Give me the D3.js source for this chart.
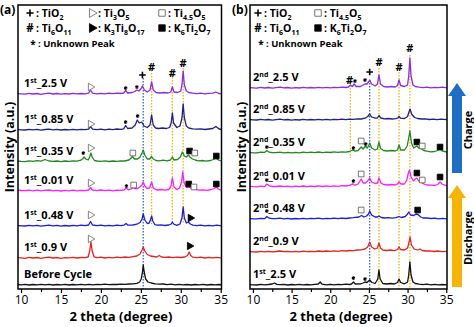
<!DOCTYPE html>
<html>
<head>
<meta charset="utf-8">
<script src="https://cdn.jsdelivr.net/npm/d3@7"></script>
<style>
  html, body { margin: 0; padding: 0; background: #fff; }
  svg { display: block; font-family: "Open Sans", "DejaVu Sans", sans-serif; }
</style>
</head>
<body>
<div id="chart"></div>
<script>
// 2-theta axis
const thetaTicks = [10, 12.5, 15, 17.5, 20, 22.5, 25, 27.5, 30, 32.5, 35];
const thetaLabels = [10, 15, 20, 25, 30, 35];

// ---- panel (a): first cycle, bottom to top ----
const a_before = [[9.6,0.5],[10,0.2],[10.5,0.6],[11,0],[11.5,0.5],[12,0.1],[12.5,0.6],[13,0.2],[13.5,0.7],[14,0],[14.5,0.5],[15,0.1],[15.5,0.6],[16,0],[16.5,0.5],[17,0.1],[17.5,0.6],[18,0.2],[18.5,0.7],[19,0.2],[19.5,0.6],[20,0.3],[20.5,0.8],[21,0.3],[21.5,0.7],[22,0.5],[22.5,0.9],[23,0.7],[23.5,1],[24,1.2],[24.5,1.7],[24.85,3],[25.05,6],[25.2,13],[25.3,20],[25.42,13],[25.6,6],[25.9,3],[26.3,2],[26.8,1.2],[27.3,0.8],[27.8,1],[28.3,0.4],[28.8,0.8],[29.3,0.2],[29.8,0.6],[30.3,0.1],[30.8,0.5],[31.3,0],[31.8,0.5],[32.3,0.1],[32.8,0.6],[33.3,0],[33.8,0.5],[34.3,0.1],[34.8,0.5],[35.1,0.2]];
const a_09 = [[9.6,0.4],[10,0.2],[10.5,-0.3],[11,0.6],[11.5,0],[12,0.5],[12.5,-0.4],[13,0.3],[13.5,0.8],[14,0],[14.5,0.5],[15,-0.3],[15.5,0.4],[16,0.1],[16.5,0.7],[17,0],[17.5,0.5],[18,0.3],[18.4,1],[18.6,7],[18.75,16],[18.9,7],[19.15,1.2],[19.5,0.4],[20,0.8],[20.5,0],[21,0.6],[21.5,0.2],[22,0.9],[22.5,0.3],[23,1],[23.5,0.6],[24,1.4],[24.5,2],[24.9,4],[25.15,8],[25.3,11],[25.5,7],[25.8,3.5],[26.2,2],[26.6,1.5],[27,1],[27.3,2.5],[27.6,1],[28,0.6],[28.5,1],[29,0.4],[29.5,0.9],[30,0.5],[30.5,1],[30.85,2.5],[31.05,6],[31.25,2.5],[31.5,0.8],[32,0.3],[32.5,0.8],[33,0],[33.5,0.6],[34,0.2],[34.5,0.7],[35.1,0.1]];
const a_048 = [[9.6,0.5],[10,0.2],[10.5,0],[11,0.7],[11.5,0.1],[12,0.6],[12.5,-0.2],[13,0.4],[13.5,0.9],[14,0.2],[14.5,0.6],[15,-0.1],[15.5,0.5],[16,0],[16.5,0.6],[17,0.2],[17.5,0.8],[18,0.3],[18.45,1],[18.7,4.5],[18.95,1],[19.5,0.3],[20,0.8],[20.5,0.2],[21,0.7],[21.5,0.1],[22,0.8],[22.5,0.4],[22.9,0.9],[23.15,2.5],[23.4,0.8],[24,1],[24.5,1.8],[24.9,3.5],[25.15,7],[25.3,12],[25.5,6],[25.8,2.5],[26.05,3],[26.2,6],[26.35,10],[26.5,5],[26.75,1.5],[27,0.8],[27.5,1.2],[28,0.5],[28.5,1],[28.8,2],[28.95,4],[29.1,2],[29.5,0.6],[29.9,2],[30.15,8],[30.3,19],[30.45,8],[30.7,3],[30.95,4],[31.2,2],[31.5,0.8],[32,0.3],[32.5,0.9],[33,0.2],[33.5,0.7],[34,0.1],[34.5,0.8],[35.1,0.2]];
const a_001 = [[9.6,1],[10,0.5],[10.5,0.3],[11,0.9],[11.5,0.2],[12,0.8],[12.5,0.1],[13,0.6],[13.5,1],[14,0.2],[14.5,0.7],[15,0],[15.5,0.6],[16,0.1],[16.5,0.8],[17,0.2],[17.5,0.7],[18,0.4],[18.45,1],[18.7,3.5],[18.95,1],[19.5,0.4],[20,1],[20.5,0.3],[21,0.8],[21.5,0.2],[22,0.9],[22.5,0.6],[22.9,1],[23.15,3],[23.45,1.2],[23.8,2],[24.0,3.5],[24.25,2.5],[24.6,2.5],[24.95,4.5],[25.15,6],[25.3,9],[25.5,5],[25.8,2.5],[26.1,3],[26.35,9],[26.55,3],[26.85,1.5],[27.2,1],[27.6,1.5],[28,0.8],[28.5,1.5],[28.75,4],[28.95,13],[29.15,4],[29.5,1.5],[29.85,3],[30.1,9],[30.25,19],[30.4,9],[30.65,4],[30.85,3.5],[31.0,4],[31.25,3],[31.6,2.5],[31.9,1.5],[32.3,0.8],[32.8,1.2],[33.3,0.6],[33.8,1.5],[34.2,2.5],[34.45,4],[34.7,2],[35.1,0.6]];
const a_035 = [[9.6,1],[10,0.6],[10.5,0.4],[11,1.2],[11.5,0.6],[12,1.4],[12.5,0.8],[13,2.5],[13.5,1],[14,0.6],[14.5,1],[15,0.4],[15.5,1],[16,0.7],[16.5,1.2],[17,0.8],[17.5,1.8],[17.75,3.5],[17.9,5],[18.1,3],[18.4,2],[18.6,5],[18.75,9],[18.9,5],[19.2,1.5],[19.5,1],[20,0.6],[20.5,1.2],[21,0.5],[21.5,1],[22,0.6],[22.5,1.2],[23,1],[23.5,2],[23.8,4],[23.95,5.5],[24.2,3],[24.6,3],[24.9,5],[25.15,9],[25.3,12],[25.5,7],[25.8,3],[26.1,3],[26.35,5.5],[26.55,3],[26.9,1.5],[27.3,1.2],[27.8,1.8],[28.3,1.2],[28.7,2],[28.95,5],[29.15,2],[29.6,2.5],[29.95,5],[30.2,10],[30.45,6],[30.7,5],[30.95,7],[31.15,5],[31.45,3],[31.8,2],[32.2,1.2],[32.7,1.5],[33.2,0.8],[33.7,1.5],[34.1,2.5],[34.4,4],[34.7,2],[35.1,1]];
const a_085 = [[9.6,0.5],[10,0.2],[10.5,0],[11,0.7],[11.5,0.2],[12,0.6],[12.5,-0.2],[13,0.5],[13.5,0.9],[14,0.1],[14.5,0.6],[15,0],[15.5,0.5],[16,0.1],[16.5,0.7],[17,0.2],[17.5,0.6],[18,0.3],[18.45,0.9],[18.7,3.5],[18.95,0.9],[19.5,0.3],[20,0.8],[20.5,0.2],[21,0.9],[21.5,0.4],[22,1],[22.5,0.6],[22.85,1.2],[23.1,4.5],[23.35,1.5],[23.9,2],[24.3,5],[24.55,10],[24.8,7],[25.1,8],[25.4,4],[25.8,2.5],[26.15,5],[26.35,15],[26.55,5],[26.85,2],[27.2,1.5],[27.7,2],[28.2,1.5],[28.6,2.5],[28.8,7],[28.95,17],[29.1,7],[29.5,2.5],[29.9,4],[30.15,12],[30.3,26],[30.45,12],[30.7,4],[31,2],[31.5,1.2],[32,0.8],[32.5,1.2],[33,0.5],[33.5,1],[34,1.5],[34.4,3.5],[34.8,1],[35.1,0.5]];
const a_25 = [[9.6,0.4],[10,0.2],[10.5,-0.2],[11,0.6],[11.5,0],[12,0.5],[12.5,-0.3],[13,0.4],[13.5,0.8],[14,0],[14.5,0.5],[15,-0.2],[15.5,0.4],[16,0],[16.5,0.6],[17,0.1],[17.5,0.5],[18,0.2],[18.45,0.8],[18.7,4],[18.95,0.8],[19.5,0.2],[20,0.7],[20.5,0.1],[21,0.8],[21.5,0.3],[22,0.9],[22.5,0.5],[22.85,1],[23.1,3.5],[23.35,1],[23.9,1.5],[24.25,2.5],[24.5,4],[24.75,3],[25.0,5],[25.2,8],[25.45,4],[25.8,2],[26.15,4],[26.35,12],[26.55,4],[26.9,1.5],[27.4,1],[27.9,1.5],[28.4,1],[28.75,2],[28.95,7],[29.15,2],[29.6,1.5],[30,3],[30.15,9],[30.3,23],[30.45,9],[30.7,3],[31,1.5],[31.5,0.8],[32,0.4],[32.5,0.9],[33,0.2],[33.5,0.6],[34,0.8],[34.4,2],[34.8,0.4],[35.1,0.5]];

// ---- panel (b): second cycle, bottom to top ----
const b_1st25 = [[9.6,0.4],[10,0.1],[10.5,0],[11,0.6],[11.5,0.2],[12,0.5],[12.5,1],[12.8,2],[13.1,0.6],[13.5,0.3],[14,0.6],[14.5,0],[15,0.5],[15.5,0.1],[16,0.6],[16.5,0.2],[17,0.5],[17.5,0.1],[18,0.6],[18.45,1],[18.7,3],[18.95,0.8],[19.5,0.2],[20,0.6],[20.5,0.1],[21,0.7],[21.5,0.3],[22,0.8],[22.5,0.5],[22.75,1],[23.0,3],[23.25,1],[23.9,1.2],[24.25,2],[24.5,3],[24.75,2.5],[25.1,5],[25.4,2.5],[25.8,1.5],[26.15,6],[26.3,15],[26.45,6],[26.8,1.5],[27.3,1],[27.8,1.5],[28.3,1],[28.7,2.5],[28.9,6],[29.1,2.5],[29.6,1.2],[30,3],[30.15,10],[30.3,23],[30.45,10],[30.7,3],[31,1.5],[31.5,0.8],[32,0.3],[32.5,0.8],[33,0.2],[33.5,0.7],[34,0.1],[34.5,0.5],[35.1,0.2]];
const b_09 = [[9.6,0.5],[10,0.2],[10.5,0],[11,0.6],[11.5,0.1],[12,0.7],[12.5,0.2],[13,0.5],[13.5,1],[14,0.3],[14.5,0.7],[15,0.1],[15.5,0.6],[16,0.2],[16.5,0.8],[17,0.3],[17.5,0.7],[18,0.4],[18.5,1],[19,0.5],[19.5,1],[20,0.6],[20.5,1.2],[21,0.7],[21.5,1.3],[22,1],[22.5,1.5],[23,1.3],[23.5,2],[24,2.2],[24.5,3],[24.85,5],[25.1,10],[25.35,5],[25.75,3],[26.1,4],[26.3,9],[26.5,4],[26.8,2],[27.3,1.5],[27.8,2],[28.3,1.4],[28.7,2.5],[28.9,5],[29.1,2.5],[29.6,2],[30,4],[30.2,10],[30.32,15],[30.5,7],[30.85,3],[31.3,2],[31.6,3],[31.9,1.5],[32.4,1],[32.9,1.2],[33.4,0.5],[33.9,1],[34.4,0.3],[35.1,0.6]];
const b_048 = [[9.6,0.5],[10,0.2],[10.5,0.1],[11,0.7],[11.5,0.3],[11.8,2.5],[12.1,0.8],[12.5,0.4],[13,0.4],[13.5,0.8],[14,0.1],[14.5,0.6],[15,0],[15.5,0.5],[16,0.2],[16.5,0.7],[17,0.1],[17.5,0.6],[18,0.3],[18.5,0.8],[19,0.2],[19.5,0.7],[20,0.3],[20.5,0.8],[21,0.4],[21.5,0.9],[22,0.5],[22.5,1],[23,1.3],[23.7,2],[24.05,3.5],[24.35,2],[24.7,3],[24.95,5],[25.1,8],[25.35,4],[25.8,2],[26.1,2],[26.3,3],[26.6,1.5],[27,1],[27.5,1.4],[28,0.8],[28.5,1.3],[28.9,2.5],[29.2,1.5],[29.7,2.5],[30.0,5],[30.15,7],[30.4,4],[30.8,3.5],[31.1,5],[31.35,4.5],[31.7,2],[32,1],[32.5,1.2],[33,0.5],[33.5,0.9],[34,0.2],[34.5,0.7],[35.1,0.2]];
const b_001 = [[9.6,0.8],[10,0.4],[10.5,0.2],[11,0.9],[11.5,0.4],[11.8,3],[12.1,1.2],[12.5,0.5],[13,0.5],[13.5,1],[14,0.3],[14.5,0.9],[15,0.2],[15.5,0.8],[16,0.3],[16.5,1],[17,0.4],[17.5,0.9],[18,0.5],[18.5,1.1],[19,0.5],[19.5,1.1],[20,0.6],[20.5,1.2],[21,0.7],[21.5,1.3],[22,1],[22.5,1.6],[22.9,3.2],[23.2,1.8],[23.6,3],[24.0,8],[24.25,4],[24.55,4],[24.85,6],[25.1,9],[25.35,5],[25.8,3.5],[26.1,4],[26.3,9],[26.55,4],[26.9,2.5],[27.4,2],[27.9,2.5],[28.4,2],[28.7,3],[28.9,5],[29.15,3],[29.6,3],[29.9,7],[30.1,14],[30.25,17],[30.45,10],[30.75,6],[31.0,8],[31.2,9],[31.45,6],[31.8,4.5],[32.1,3],[32.5,2],[33,1.8],[33.5,1.5],[33.9,2.5],[34.2,5],[34.45,3],[35.1,1.2]];
const b_035 = [[9.6,0.6],[10,0.2],[10.5,0.1],[11,0.8],[11.5,0.6],[11.8,2.5],[12.1,0.8],[12.5,0.4],[13,0.4],[13.5,0.9],[14,0.2],[14.5,0.7],[15,0.1],[15.5,0.6],[16,0.2],[16.5,0.9],[17,0.3],[17.5,0.8],[18,0.4],[18.5,1],[19,0.4],[19.5,0.9],[20,0.5],[20.5,1.1],[21,0.6],[21.5,1.2],[22,0.9],[22.5,1.5],[22.9,3],[23.2,1.8],[23.6,2.5],[24.0,6],[24.25,4],[24.55,7],[24.8,5],[24.95,7],[25.1,10],[25.35,5],[25.8,3],[26.1,4],[26.3,11],[26.5,4.5],[26.9,2.5],[27.4,2],[27.9,2.5],[28.4,2],[28.7,3],[28.9,8],[29.1,3],[29.6,3],[29.95,7],[30.15,15],[30.3,22],[30.5,10],[30.8,5],[31.0,6],[31.2,7],[31.45,5],[31.8,4],[32.1,2.5],[32.5,1.8],[33,1.2],[33.5,1.5],[33.9,2.5],[34.2,4],[34.5,2],[35.1,1]];
const b_085 = [[9.6,0.5],[10,0.2],[10.5,0],[11,0.6],[11.5,0.1],[12,0.5],[12.5,-0.1],[13,0.4],[13.5,0.8],[14,0.1],[14.5,0.5],[15,-0.1],[15.5,0.4],[16,0],[16.5,0.6],[17,0.1],[17.5,0.5],[18,0.2],[18.5,0.7],[19,0.1],[19.5,0.6],[20,0.2],[20.5,0.7],[21,0.3],[21.5,0.8],[22,0.4],[22.5,0.9],[23,0.7],[23.5,1.2],[24,1],[24.5,1.8],[24.85,3.5],[25.1,6],[25.35,3],[25.8,1.8],[26.1,2],[26.3,4.5],[26.55,2],[27,1.2],[27.5,1.5],[28,1],[28.5,1.4],[28.75,2],[28.9,3.5],[29.1,1.8],[29.6,1.5],[30,3.5],[30.18,8],[30.32,11],[30.52,6],[30.9,2.5],[31.3,1.5],[31.8,1],[32.3,1.2],[32.8,0.5],[33.3,0.9],[33.8,0.3],[34.3,0.8],[35.1,0.3]];
const b_25 = [[9.6,0.4],[10,0.1],[10.5,-0.2],[11,0.6],[11.5,0],[12,0.5],[12.5,-0.2],[13,0.4],[13.5,0.8],[14,0.1],[14.5,0.5],[15,-0.1],[15.5,0.4],[16,0],[16.5,0.6],[17,0.1],[17.5,0.5],[18,0.2],[18.5,0.7],[19,0.1],[19.5,0.6],[20,0.2],[20.5,0.7],[21,0.3],[21.5,0.8],[22,0.5],[22.35,1],[22.6,3],[22.85,1.5],[23.1,4],[23.35,1.5],[23.9,1.5],[24.25,3],[24.5,4],[24.75,4],[24.95,6],[25.1,8],[25.35,4],[25.8,2],[26.1,4],[26.3,13],[26.5,4],[26.9,1.5],[27.4,1],[27.9,1.5],[28.4,1],[28.7,2.5],[28.9,8],[29.1,2.5],[29.6,1.5],[30,3],[30.15,12],[30.3,30],[30.45,12],[30.7,3],[31,1.5],[31.5,0.8],[32,0.4],[32.5,0.9],[33,0.2],[33.5,0.7],[34,0.3],[34.5,0.8],[35.1,0.2]];

// stacking offsets (a.u.), bottom to top
const offsetsA = [4, 31, 63, 98, 127, 159, 195];
const offsetsB = [4, 37, 70, 102, 136, 169, 201];

// scan names: [lead, superscript, rest]
const namesA = [['Before Cycle', '', ''], ['1', 'st', '_0.9 V'], ['1', 'st', '_0.48 V'], ['1', 'st', '_0.01 V'], ['1', 'st', '_0.35 V'], ['1', 'st', '_0.85 V'], ['1', 'st', '_2.5 V']];
const namesB = [['1', 'st', '_2.5 V'], ['2', 'nd', '_0.9 V'], ['2', 'nd', '_0.48 V'], ['2', 'nd', '_0.01 V'], ['2', 'nd', '_0.35 V'], ['2', 'nd', '_0.85 V'], ['2', 'nd', '_2.5 V']];
const colorsA = ['#111111', '#e8231f', '#1c1ce0', '#ff1cff', '#1f8a1f', '#20208c', '#8b2be8'];
const colorsB = ['#111111', '#e8231f', '#1c1ce0', '#ff1cff', '#1f8a1f', '#20208c', '#8b2be8'];

// phase markers: [scan index, 2theta, height above scan baseline, symbol]
const markersA = [
  [6, 18.7, 7, '▷'], [6, 23.1, 6, '*'], [6, 24.5, 7, '*'], [6, 25.2, 19, '+'], [6, 26.35, 27, '#'], [6, 28.95, 21, '#'], [6, 30.3, 31, '#'],
  [5, 18.7, 6, '▷'], [5, 23.1, 8, '*'], [5, 24.6, 14, '*'],
  [4, 17.8, 9, '*'], [4, 18.7, 14, '▷'], [4, 24.0, 9, '□'], [4, 31.1, 11, '■'], [4, 31.75, 9, '□'], [4, 34.45, 6, '■'],
  [3, 18.7, 8, '▷'], [3, 23.2, 5, '*'], [3, 24.1, 6, '□'], [3, 31.0, 7, '■'], [3, 31.65, 4, '□'], [3, 34.45, 7, '■'],
  [2, 18.7, 11, '▷'], [2, 31.2, 8, '▶'],
  [1, 18.7, 19, '▷'], [1, 31.1, 12, '▶']
];
const markersB = [
  [6, 22.5, 8, '#'], [6, 23.2, 7, '*'], [6, 24.5, 8, '*'], [6, 25.1, 16, '+'], [6, 26.3, 26, '#'], [6, 28.9, 21, '#'], [6, 30.3, 40, '#'],
  [4, 11.8, 6, '*'], [4, 23.0, 5, '*'], [4, 24.0, 12, '□'], [4, 24.6, 9, '*'], [4, 31.2, 11, '■'], [4, 31.9, 7, '□'], [4, 34.2, 6, '■'],
  [3, 11.8, 7, '*'], [3, 23.0, 6, '*'], [3, 24.0, 13, '□'], [3, 31.2, 14, '■'], [3, 31.9, 7, '□'], [3, 34.2, 10, '■'],
  [2, 11.8, 8, '*'], [2, 24.0, 9, '□'], [2, 31.3, 9, '■'],
  [0, 23.0, 7, '*'], [0, 24.5, 6, '*']
];

// reference peak positions: [2theta, phase, top, bottom] in a.u.
const refLinesA = [[25.3, 'TiO2', 211, 0], [26.35, 'Ti6O11', 219, 65], [28.95, 'Ti6O11', 212, 65], [30.3, 'Ti6O11', 221, 65]];
const refLinesB = [[22.6, 'Ti6O11', 207, 131], [25.1, 'TiO2', 209, 0], [26.3, 'Ti6O11', 221, 0], [28.9, 'Ti6O11', 217, 0], [30.3, 'Ti6O11', 234, 0]];

// legend rows: [symbol, formula pieces as [text, subscript]]
const legendA = [
  [['+', [['TiO', '2']]], ['▷', [['Ti', '3'], ['O', '5']]], ['□', [['Ti', '4.5'], ['O', '5']]]],
  [['#', [['Ti', '6'], ['O', '11']]], ['▶', [['K', '3'], ['Ti', '8'], ['O', '17']]], ['■', [['K', '6'], ['Ti', '2'], ['O', '7']]]]
];
const legendB = [
  [['+', [['TiO', '2']]], ['□', [['Ti', '4.5'], ['O', '5']]]],
  [['#', [['Ti', '6'], ['O', '11']]], ['■', [['K', '6'], ['Ti', '2'], ['O', '7']]]]
];

const W = 474, H = 327;
const plotTop = 5, plotBottom = 289;
const refColor = { 'TiO2': '#3565d6', 'Ti6O11': '#f2b705' };

const svg = d3.select('#chart').append('svg').attr('width', W).attr('height', H);

function drawSymbol(g, sym, cx, cy, big) {
  if (sym === '+') {
    const r = big ? 3.6 : 3.3;
    g.append('path').attr('d', `M${cx - r},${cy}H${cx + r}M${cx},${cy - r}V${cy + r}`)
      .attr('stroke', '#000').attr('stroke-width', 1.6);
  } else if (sym === '#') {
    g.append('text').attr('x', cx).attr('y', cy + 4).attr('text-anchor', 'middle')
      .attr('font-size', big ? 11.5 : 11).attr('font-weight', 'bold').text(sym);
  } else if (sym === '*') {
    if (big) {
      g.append('text').attr('x', cx).attr('y', cy + 5).attr('text-anchor', 'middle')
        .attr('font-size', 10).attr('font-weight', 'bold').text('*');
    } else {
      // small six-armed star on the pattern
      const r = 1.8;
      const d = [0, 60, 120].map(a => {
        const c = Math.cos(a * Math.PI / 180) * r, s = Math.sin(a * Math.PI / 180) * r;
        return `M${cx - s},${cy - c}L${cx + s},${cy + c}`;
      }).join('');
      g.append('path').attr('d', d).attr('stroke', '#000').attr('stroke-width', 1.1);
    }
  } else if (sym === '▷' || sym === '▶') {
    g.append('path')
      .attr('d', d3.symbol().type(d3.symbolTriangle).size(big ? 34 : 24)())
      .attr('transform', `translate(${cx},${cy}) rotate(90)`)
      .attr('fill', sym === '▶' ? '#000' : '#fff')
      .attr('stroke', sym === '▶' ? '#000' : '#666').attr('stroke-width', 0.8);
  } else {
    g.append('path')
      .attr('d', d3.symbol().type(d3.symbolSquare).size(big ? 42 : 32)())
      .attr('transform', `translate(${cx},${cy})`)
      .attr('fill', sym === '■' ? '#000' : '#fff')
      .attr('stroke', sym === '■' ? '#000' : '#555').attr('stroke-width', 0.8);
  }
}

function drawFormula(g, x, y, parts) {
  const t = g.append('text').attr('x', x).attr('y', y).attr('font-size', 10.5).attr('font-weight', 'bold');
  parts.forEach(([s, sub], k) => {
    t.append('tspan').attr('dy', k ? -3 : null).text((k ? '' : ': ') + s);
    t.append('tspan').attr('font-size', 7).attr('dy', 3).text(sub);
  });
}

function drawPanel(p) {
  const g = svg.append('g');
  const x = d3.scaleLinear().domain([9.62, 35.1]).range([p.left, p.right]);
  const y = d3.scaleLinear().domain([0, 284]).range([plotBottom, plotTop]);

  // dotted reference lines
  p.refs.forEach(([t, phase, y0, y1]) => {
    g.append('line').attr('x1', x(t)).attr('x2', x(t)).attr('y1', y(y0)).attr('y2', y(y1))
      .attr('stroke', refColor[phase]).attr('stroke-width', 1.3).attr('stroke-dasharray', '1.6,1.4');
  });

  // patterns
  const line = d3.line().x(d => x(d[0])).y(d => y(d[1]));
  p.scans.forEach((scan, i) => {
    const off = p.offsets[i];
    g.append('path').datum(scan.map(d => [d[0], d[1] + off]))
      .attr('d', line).attr('fill', 'none')
      .attr('stroke', p.colors[i]).attr('stroke-width', 1.3).attr('stroke-linejoin', 'round');
  });

  // scan names
  p.names.forEach(([lead, sup, rest], i) => {
    const t = g.append('text').attr('x', p.left + p.nameDx).attr('y', y(p.offsets[i]) - 7)
      .attr('font-size', 11).attr('font-weight', 'bold');
    t.append('tspan').text(lead);
    if (sup) {
      t.append('tspan').attr('font-size', 7).attr('dy', -4).text(sup);
      t.append('tspan').attr('dy', 4).text(rest);
    }
  });

  // phase markers
  p.markers.forEach(([i, t, h, sym]) => drawSymbol(g, sym, x(t), y(p.offsets[i] + h), false));

  // frame
  g.append('rect').attr('x', p.left).attr('y', plotTop).attr('width', p.right - p.left).attr('height', plotBottom - plotTop)
    .attr('fill', 'none').attr('stroke', '#000').attr('stroke-width', 1.5);

  // x axis: labelled majors, bare minors
  const major = g.append('g').attr('transform', `translate(0,${plotBottom})`)
    .call(d3.axisBottom(x).tickValues(thetaLabels).tickSize(4).tickPadding(2));
  const minor = g.append('g').attr('transform', `translate(0,${plotBottom})`)
    .call(d3.axisBottom(x).tickValues(thetaTicks.filter(t => !thetaLabels.includes(t))).tickSize(3));
  minor.selectAll('text').remove();
  [major, minor].forEach(a => {
    a.select('.domain').remove();
    a.selectAll('line').attr('stroke-width', 1.2);
  });
  major.selectAll('text').attr('font-size', 12).attr('font-family', '"Open Sans", sans-serif').attr('fill', '#000');

  g.append('text').attr('x', p.titleX).attr('y', 321).attr('text-anchor', 'middle')
    .attr('font-size', 13).attr('font-weight', 'bold').text('2 theta (degree)');
  g.append('text').attr('transform', `translate(${p.left - 4},147) rotate(-90)`).attr('text-anchor', 'middle')
    .attr('font-size', 12.5).attr('font-weight', 'bold').text('Intensity (a.u.)');

  // legend
  p.legend.forEach((row, r) => {
    row.forEach(([sym, parts], c) => {
      const cx = p.legendX[c], cy = 13 + r * 15;
      drawSymbol(g, sym, cx, cy, true);
      drawFormula(g, cx + 6, cy + 4, parts);
    });
  });
  drawSymbol(g, '*', p.legendX[0] + 3, 43, true);
  g.append('text').attr('x', p.legendX[0] + 8).attr('y', 47).attr('font-size', 9.5).attr('font-weight', 'bold').text(': Unknown Peak');

  g.append('text').attr('x', p.left - 18).attr('y', 14).attr('font-size', 12).attr('font-weight', 'bold').text(p.tag);
}

drawPanel({
  left: 18, right: 221.5, scans: [a_before, a_09, a_048, a_001, a_035, a_085, a_25],
  offsets: offsetsA, names: namesA, colors: colorsA, markers: markersA, refs: refLinesA,
  legend: legendA, legendX: [30, 92, 162], nameDx: 6, titleX: 121, tag: '(a)'
});
drawPanel({
  left: 250, right: 447, scans: [b_1st25, b_09, b_048, b_001, b_035, b_085, b_25],
  offsets: offsetsB, names: namesB, colors: colorsB, markers: markersB, refs: refLinesB,
  legend: legendB, legendX: [258, 318], nameDx: 3, titleX: 341, tag: '(b)'
});

// charge / discharge arrows (a.u. spans on the panel (b) scale)
const arrowSpans = [['Charge', 116, 206, '#1d6fc6'], ['Discharge', 2, 104, '#f7b500']];
const yB = d3.scaleLinear().domain([0, 284]).range([plotBottom, plotTop]);
arrowSpans.forEach(([label, from, to, color]) => {
  const y0 = yB(from), y1 = yB(to), cx = 457, hw = 9, sw = 5, hh = 13;
  svg.append('path')
    .attr('d', `M${cx - sw},${y0} L${cx - sw},${y1 + hh} L${cx - hw},${y1 + hh} L${cx},${y1} L${cx + hw},${y1 + hh} L${cx + sw},${y1 + hh} L${cx + sw},${y0} Z`)
    .attr('fill', color);
  svg.append('text').attr('transform', `translate(472,${(y0 + y1) / 2 + 2}) rotate(-90)`)
    .attr('text-anchor', 'middle').attr('font-size', 11).attr('font-weight', 'bold').text(label);
});
</script>
</body>
</html>
